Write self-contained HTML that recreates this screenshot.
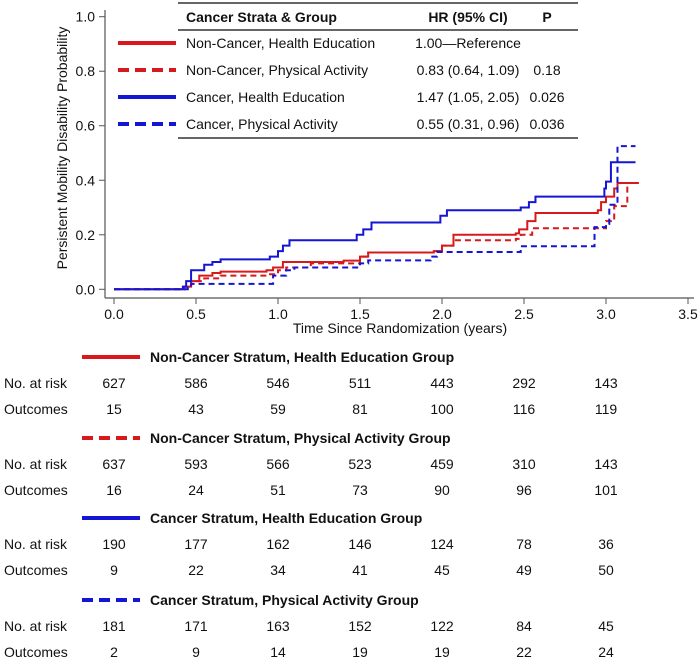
<!DOCTYPE html>
<html><head><meta charset="utf-8">
<style>
body{margin:0;background:#fff;}
svg{display:block;font-family:"Liberation Sans",Arial,sans-serif;}
</style></head>
<body>
<svg id="chart" width="700" height="662" viewBox="0 0 700 662">
<g id="axes"></g>
<g id="curves"></g>
<g id="legend"></g>
<g id="risk"></g>
</svg>
<script>
const xTicks=[0,0.5,1,1.5,2,2.5,3,3.5];
const yTicks=[0,0.2,0.4,0.6,0.8,1.0];
// step series: times and cumulative probability
const ncHE_t=[0,0.43,0.47,0.52,0.6,0.65,0.93,0.97,1.03,1.4,1.5,1.55,1.95,2.0,2.07,2.45,2.47,2.52,2.57,2.95,2.97,3.0,3.05,3.07,3.2];
const ncHE_v=[0,0.01,0.03,0.05,0.06,0.065,0.07,0.08,0.1,0.105,0.12,0.135,0.14,0.16,0.2,0.205,0.22,0.25,0.28,0.29,0.32,0.34,0.37,0.39,0.39];
const ncPA_t=[0,0.43,0.47,0.55,0.65,0.93,1.0,1.05,1.2,1.5,1.55,1.95,2.0,2.07,2.45,2.48,2.55,2.98,3.0,3.05,3.12,3.13,3.2];
const ncPA_v=[0,0.01,0.03,0.04,0.05,0.055,0.07,0.08,0.095,0.12,0.135,0.14,0.16,0.18,0.185,0.2,0.224,0.224,0.25,0.305,0.305,0.39,0.39];
const cHE_t=[0,0.42,0.44,0.47,0.55,0.6,0.65,0.93,0.95,1.0,1.03,1.07,1.45,1.48,1.52,1.57,1.98,1.99,2.03,2.47,2.48,2.53,2.57,2.98,2.99,3.0,3.03,3.18];
const cHE_v=[0,0.01,0.03,0.07,0.09,0.1,0.11,0.11,0.12,0.14,0.16,0.18,0.18,0.2,0.22,0.245,0.245,0.27,0.29,0.29,0.3,0.32,0.34,0.34,0.37,0.395,0.466,0.466];
const cPA_t=[0,0.45,0.47,0.95,0.97,1.05,1.1,1.5,1.55,1.93,1.97,2.48,2.93,3.0,3.02,3.07,3.18];
const cPA_v=[0,0.005,0.02,0.02,0.05,0.07,0.08,0.095,0.106,0.12,0.137,0.158,0.228,0.24,0.31,0.525,0.525];
const legRows=["Non-Cancer, Health Education","Non-Cancer, Physical Activity","Cancer, Health Education","Cancer, Physical Activity"];
const legHR=["1.00\u2014Reference","0.83 (0.64, 1.09)","1.47 (1.05, 2.05)","0.55 (0.31, 0.96)"];
const legP=["","0.18","0.026","0.036"];
const groupNames=["Non-Cancer Stratum, Health Education Group","Non-Cancer Stratum, Physical Activity Group","Cancer Stratum, Health Education Group","Cancer Stratum, Physical Activity Group"];
const riskTimes=[0,0.5,1,1.5,2,2.5,3];
const atRisk=[[627,586,546,511,443,292,143],[637,593,566,523,459,310,143],[190,177,162,146,124,78,36],[181,171,163,152,122,84,45]];
const outcomes=[[15,43,59,81,100,116,119],[16,24,51,73,90,96,101],[9,22,34,41,45,49,50],[2,9,14,19,19,22,24]];

const NS="http://www.w3.org/2000/svg";
const X=t=>114+t*164;
const Y=v=>289.3-v*272.6;
function mk(tag,attrs,parent,text){const e=document.createElementNS(NS,tag);for(const k in attrs)e.setAttribute(k,attrs[k]);if(text!==undefined)e.textContent=text;parent.appendChild(e);return e;}
const axes=document.getElementById('axes');
let e=mk('line',{x1:105,y1:10,x2:105,y2:298,stroke:'#555','stroke-width':1.2},axes);

e=mk('line',{x1:105,y1:298,x2:694,y2:298,stroke:'#555','stroke-width':1.2},axes);

yTicks.forEach(v=>{mk('line',{x1:99,y1:Y(v),x2:105,y2:Y(v),stroke:'#555'},axes);
 e=mk('text',{x:95,y:Y(v)+5,'text-anchor':'end','font-size':14,fill:'#111'},axes,v.toFixed(1));
 });
xTicks.forEach(v=>{mk('line',{x1:X(v),y1:298,x2:X(v),y2:304,stroke:'#555'},axes);
 e=mk('text',{x:X(v),y:319,'text-anchor':'middle','font-size':14,fill:'#111'},axes,v.toFixed(1));
 });
e=mk('text',{x:400,y:333,'text-anchor':'middle','font-size':14,fill:'#111'},axes,'Time Since Randomization (years)');

e=mk('text',{x:0,y:0,'text-anchor':'middle','font-size':14,fill:'#111',transform:'translate(67,148) rotate(-90)'},axes,'Persistent Mobility Disability Probability');


const series=[[ncHE_t,ncHE_v,'#d7191c',''],[ncPA_t,ncPA_v,'#d7191c','6,4'],[cHE_t,cHE_v,'#1515d4',''],[cPA_t,cPA_v,'#1515d4','6,4']];
const sNames=['curve-noncancer-health-education','curve-noncancer-physical-activity','curve-cancer-health-education','curve-cancer-physical-activity'];
const curves=document.getElementById('curves');
series.forEach((s,i)=>{const [t,v,c,d]=s;let p='M'+X(t[0])+','+Y(v[0]);
 for(let k=1;k<t.length;k++){p+=' H'+X(t[k])+' V'+Y(v[k]);}
 e=mk('path',{d:p,fill:'none',stroke:c,'stroke-width':2,'stroke-dasharray':d},curves);
 });

const leg=document.getElementById('legend');
mk('line',{x1:178,y1:3,x2:578,y2:3,stroke:'#333','stroke-width':1.5},leg);
mk('line',{x1:178,y1:30,x2:578,y2:30,stroke:'#333','stroke-width':1.5},leg);
mk('line',{x1:178,y1:138,x2:578,y2:138,stroke:'#333','stroke-width':1.5},leg);
e=mk('text',{x:186,y:22,'font-size':14,'font-weight':'bold',fill:'#111'},leg,'Cancer Strata & Group');
e=mk('text',{x:468,y:22,'font-size':14,'font-weight':'bold',fill:'#111','text-anchor':'middle'},leg,'HR (95% CI)');
e=mk('text',{x:547,y:22,'font-size':14,'font-weight':'bold',fill:'#111','text-anchor':'middle'},leg,'P');
legRows.forEach((r,i)=>{const y=43+i*27;
 e=mk('line',{x1:118,y1:y,x2:176,y2:y,stroke:series[i][2],'stroke-width':4,'stroke-dasharray':series[i][3]?'11,6':''},leg);
 
 e=mk('text',{x:186,y:y+5,'font-size':14,fill:'#111'},leg,r);
 e=mk('text',{x:468,y:y+5,'font-size':14,fill:'#111','text-anchor':'middle'},leg,legHR[i]);
 e=mk('text',{x:547,y:y+5,'font-size':14,fill:'#111','text-anchor':'middle'},leg,legP[i]);});

const risk=document.getElementById('risk');
const hy=[357,438,518,600];
groupNames.forEach((g,i)=>{const y=hy[i];
 e=mk('line',{x1:82,y1:y,x2:140,y2:y,stroke:series[i][2],'stroke-width':4,'stroke-dasharray':series[i][3]?'11,6':''},risk);
 
 e=mk('text',{x:150,y:y+5,'font-size':14,'font-weight':'bold',fill:'#111'},risk,g);
 e=mk('text',{x:4,y:y+31,'font-size':14,fill:'#111'},risk,'No. at risk');
 e=mk('text',{x:4,y:y+57,'font-size':14,fill:'#111'},risk,'Outcomes');
 riskTimes.forEach((t,k)=>{
  e=mk('text',{x:X(t),y:y+31,'font-size':14,fill:'#111','text-anchor':'middle'},risk,atRisk[i][k]);
  e=mk('text',{x:X(t),y:y+57,'font-size':14,fill:'#111','text-anchor':'middle'},risk,outcomes[i][k]);});});
</script>
</body></html>
